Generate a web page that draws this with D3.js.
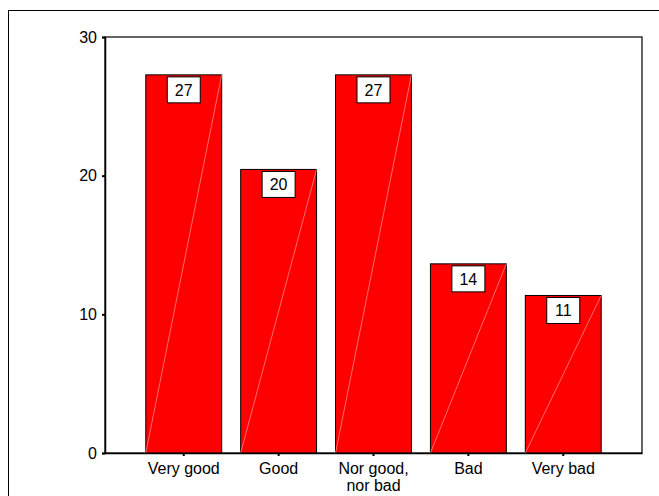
<!DOCTYPE html>
<html>
<head>
<meta charset="utf-8">
<script src="https://cdn.jsdelivr.net/npm/d3@7"></script>
<style>
  body { margin: 0; background: #fff; }
  svg { display: block; font-family: "Liberation Sans", Arial, sans-serif; }
</style>
</head>
<body>
<svg id="chart" width="659" height="496"></svg>
<script>
// categories (second line of a label after "|")
const categories = ["Very good", "Good", "Nor good,|nor bad", "Bad", "Very bad"];
// percent of 44 answers
const percents = [27.27, 20.45, 27.27, 13.64, 11.36];
const barLabels = ["27", "20", "27", "14", "11"];
const yTicks = [0, 10, 20, 30];

const dims = { left: 105, right: 642, top: 37, bottom: 453 };

const svg = d3.select("#chart");

// outer frame
svg.append("rect")
  .attr("x", 8.5).attr("y", 10.5)
  .attr("width", 660).attr("height", 500)
  .attr("fill", "none").attr("stroke", "#000").attr("stroke-width", 1);

const x = d3.scaleBand()
  .domain(categories)
  .range([dims.left, dims.right])
  .paddingInner(0.2)
  .paddingOuter(0.43);

const y = d3.scaleLinear()
  .domain([0, 30])
  .range([dims.bottom, dims.top]);

// plot frame
svg.append("rect")
  .attr("x", dims.left).attr("y", dims.top)
  .attr("width", dims.right - dims.left).attr("height", dims.bottom - dims.top)
  .attr("fill", "none").attr("stroke", "#000").attr("stroke-width", 1.2);

const bars = svg.append("g").selectAll("g")
  .data(categories.map((c, i) => ({ c, v: percents[i], label: barLabels[i] })))
  .join("g");

bars.append("rect")
  .attr("x", (d) => x(d.c))
  .attr("y", (d) => y(d.v))
  .attr("width", x.bandwidth())
  .attr("height", (d) => y(0) - y(d.v))
  .attr("fill", "#ff0000")
  .attr("stroke", "#000")
  .attr("stroke-width", 1);

bars.append("rect")
  .attr("x", (d) => x(d.c) + x.bandwidth() / 2 - 16.5)
  .attr("y", (d) => y(d.v) + 2)
  .attr("width", 33)
  .attr("height", 26)
  .attr("fill", "#fff")
  .attr("stroke", "#000")
  .attr("stroke-width", 1);

bars.append("text")
  .attr("x", (d) => x(d.c) + x.bandwidth() / 2)
  .attr("y", (d) => y(d.v) + 21)
  .attr("text-anchor", "middle")
  .attr("font-size", 16)
  .text((d) => d.label);

// faint diagonal through each bar
bars.append("line")
  .attr("x1", (d) => x(d.c))
  .attr("y1", y(0))
  .attr("x2", (d) => x(d.c) + x.bandwidth())
  .attr("y2", (d) => y(d.v))
  .attr("stroke", "#ff9a9a")
  .attr("stroke-width", 0.7);

// y axis
const yAxis = svg.append("g")
  .attr("transform", `translate(${dims.left},0)`)
  .call(d3.axisLeft(y).tickValues(yTicks).tickSize(3).tickPadding(5).tickFormat(d3.format("d")));
yAxis.select(".domain").attr("stroke", "#000").attr("stroke-width", 1.5);
yAxis.selectAll(".tick line").attr("stroke", "#000").attr("stroke-width", 2);
yAxis.selectAll("text")
  .attr("font-size", 16).attr("font-family", "Liberation Sans, Arial, sans-serif")
  .attr("fill", "#000");

// x axis
const xAxis = svg.append("g")
  .attr("transform", `translate(0,${dims.bottom})`)
  .call(d3.axisBottom(x).tickSize(3).tickSizeOuter(0).tickFormat(""));
xAxis.select(".domain").attr("stroke", "#000").attr("stroke-width", 1.5);
xAxis.selectAll(".tick line").attr("stroke", "#000").attr("stroke-width", 2);

xAxis.selectAll(".tick").append("text")
  .attr("fill", "#000")
  .attr("font-size", 16)
  .attr("font-family", "Liberation Sans, Arial, sans-serif")
  .attr("text-anchor", "middle")
  .selectAll("tspan")
  .data((d) => d.split("|"))
  .join("tspan")
  .attr("x", 0)
  .attr("y", (d, i) => 21 + i * 17)
  .text((d) => d);
</script>
</body>
</html>
